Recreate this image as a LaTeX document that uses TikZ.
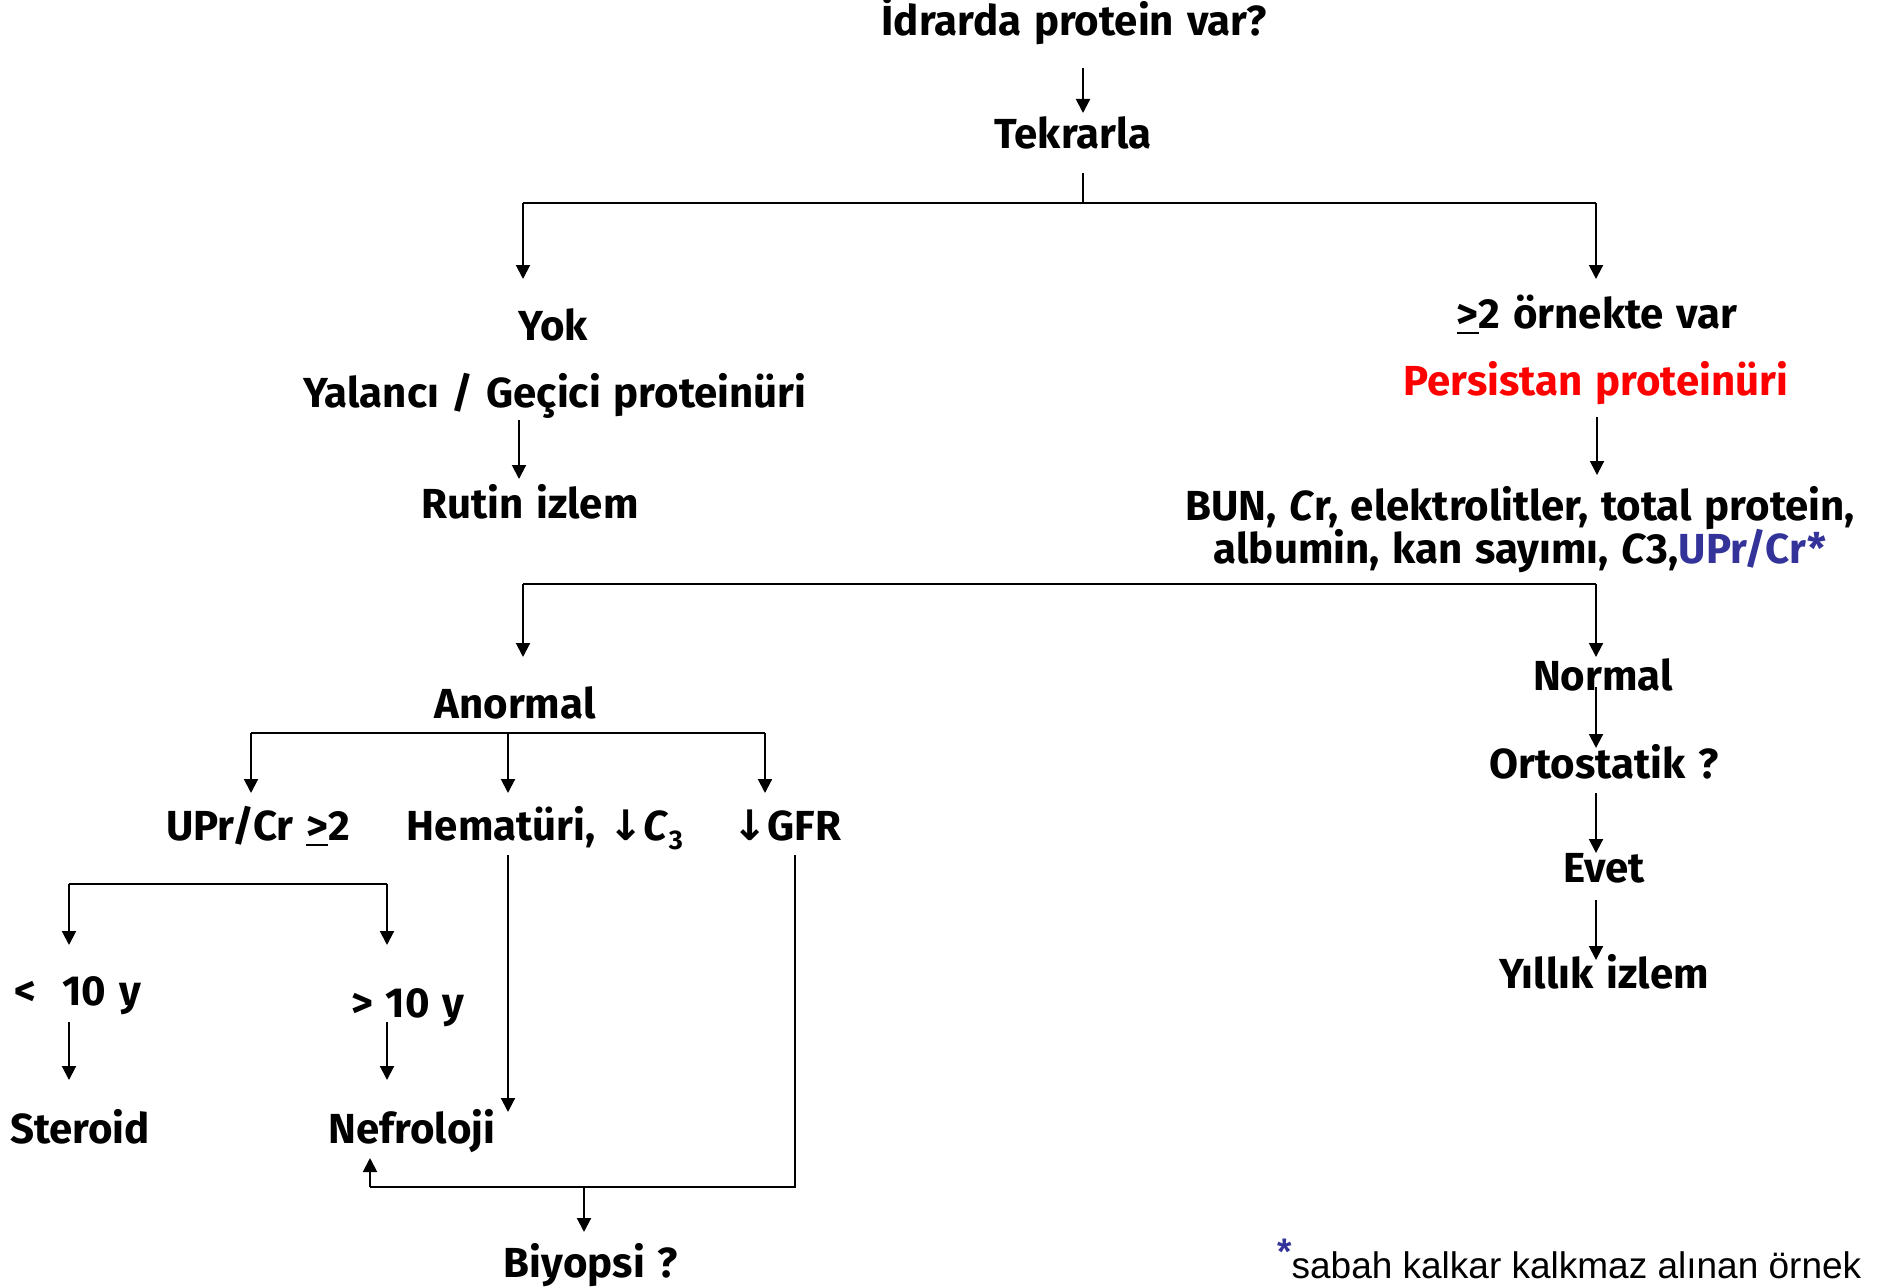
\documentclass[tikz,border=0pt]{standalone}
\usepackage{fontspec}
\setmainfont{Fira Sans}[WordSpace=1.3]
\newfontfamily\arrfont{DejaVu Sans}
\newfontfamily\footfont{Liberation Sans}
\usetikzlibrary{arrows.meta}
\definecolor{upblue}{RGB}{51,51,153}
\definecolor{pred}{RGB}{255,0,0}
\newsavebox\ulbox
\newcommand\ulge[1]{\begingroup\sbox\ulbox{#1}\rlap{\rule[-6pt]{\wd\ulbox}{2.5pt}}\usebox\ulbox\endgroup}
\newcommand\dnarr{{\arrfont\bfseries ↓}}
\begin{document}
\begin{tikzpicture}[x=1pt,y=-1pt,
  lbl/.style={inner sep=0pt, anchor=base, font=\fontsize{42}{48}\selectfont\bfseries},
  arr/.style={line width=2pt, -{Triangle[length=14pt,width=14pt]}},
  bar/.style={line width=2.6pt},
  ln/.style={line width=2pt}]
\useasboundingbox (0,0) rectangle (1886,1287);

% text nodes
\node[lbl] (q) at (1074,36) {İdrarda protein var?};
\node[lbl] (tek) at (1073,148) {Tekrarla};
\node[lbl] (yok) at (553,340) {Yok};
\node[lbl] (yal) at (555,407) {Yalancı / Geçici proteinüri};
\node[lbl] (rut) at (530,518) {Rutin izlem};
\node[lbl] (var) at (1597,328) {\ulge{>}2 örnekte var};
\node[lbl, text=pred] (pers) at (1596,395) {Persistan proteinüri};
\node[lbl] (bun1) at (1520,520) {BUN, \textit{C}r, elektrolitler, total protein,};
\node[lbl] (bun2) at (1520,563) {albumin, kan sayımı, \textit{C}3,\textcolor{upblue}{UPr/Cr*}};
\node[lbl] (norm) at (1603,690) {Normal};
\node[lbl] (orto) at (1604,778) {Ortostatik ?};
\node[lbl] (evet) at (1604,882) {Evet};
\node[lbl] (yil) at (1604,988) {Yıllık izlem};
\node[lbl] (anor) at (515,718) {Anormal};
\node[lbl] (upr) at (258,840) {UPr/Cr \ulge{>}2};
\node[lbl] (hem) at (545,840) {Hematüri, \dnarr\textit{C}\raisebox{-9pt}{\fontsize{27}{27}\selectfont 3}};
\node[lbl] (gfr) at (787,840) {\dnarr GFR};
\node[lbl] (lt) at (78,1005) {<\ \ 10 y};
\node[lbl] (gt) at (408,1017) {>\ 10 y};
\node[lbl] (ster) at (80,1143) {Steroid};
\node[lbl] (nef) at (412,1143) {Nefroloji};
\node[lbl] (biy) at (591,1277) {Biyopsi ?};
\node[inner sep=0pt, anchor=base west, font=\footfont\fontsize{37}{44}\selectfont] (foot) at (1277,1278)
  {\textcolor{upblue}{\raisebox{14pt}{\bfseries *}}sabah kalkar kalkmaz alınan örnek};

% coordinates
\coordinate (a1) at (1083,68);  \coordinate (a1e) at (1083,113);
\coordinate (t1) at (1083,173); \coordinate (t2) at (1083,203);
\coordinate (bl) at (523,203);  \coordinate (br) at (1596,203);
\coordinate (ylt) at (523,279); \coordinate (vrt) at (1596,279);
\coordinate (r1) at (519,420);  \coordinate (r1e) at (519,479);
\coordinate (p1) at (1597,417); \coordinate (p1e) at (1597,475);
\coordinate (b2l) at (523,584); \coordinate (b2r) at (1596,584);
\coordinate (anT) at (523,657); \coordinate (noT) at (1596,657);
\coordinate (n1) at (1596,687); \coordinate (n1e) at (1596,748);
\coordinate (o1) at (1596,793); \coordinate (o1e) at (1596,853);
\coordinate (e1) at (1596,900); \coordinate (e1e) at (1596,960);
\coordinate (c1) at (251,733);  \coordinate (c2) at (508,733); \coordinate (c3) at (765,733);
\coordinate (c1e) at (251,793); \coordinate (c2e) at (508,793); \coordinate (c3e) at (765,793);
\coordinate (u1) at (69,884);   \coordinate (u2) at (387,884);
\coordinate (u1e) at (69,945);  \coordinate (u2e) at (387,945);
\coordinate (l1) at (69,1022);  \coordinate (l1e) at (69,1080);
\coordinate (g1) at (387,1022); \coordinate (g1e) at (387,1080);
\coordinate (h1) at (508,855);  \coordinate (h1e) at (508,1112);
\coordinate (f1) at (795,855);  \coordinate (f2) at (795,1187);
\coordinate (f3) at (370,1187); \coordinate (f3e) at (370,1158);
\coordinate (bj) at (584,1187); \coordinate (bje) at (584,1232);

% connectors
\draw[arr] (a1) -- (a1e);
\draw[ln] (t1) -- (t2);
\draw[bar] (bl) -- (br);
\draw[arr] (bl) -- (ylt);
\draw[arr] (br) -- (vrt);
\draw[arr] (r1) -- (r1e);
\draw[arr] (p1) -- (p1e);
\draw[bar] (b2l) -- (b2r);
\draw[arr] (b2l) -- (anT);
\draw[arr] (b2r) -- (noT);
\draw[arr] (n1) -- (n1e);
\draw[arr] (o1) -- (o1e);
\draw[arr] (e1) -- (e1e);
\draw[bar] (c1) -- (c3);
\draw[arr] (c1) -- (c1e);
\draw[arr] (c2) -- (c2e);
\draw[arr] (c3) -- (c3e);
\draw[bar] (u1) -- (u2);
\draw[arr] (u1) -- (u1e);
\draw[arr] (u2) -- (u2e);
\draw[arr] (l1) -- (l1e);
\draw[arr] (g1) -- (g1e);
\draw[arr] (h1) -- (h1e);
\draw[ln] (f1) -- (f2) -- (f3);
\draw[arr] (f3) -- (f3e);
\draw[arr] (bj) -- (bje);
\end{tikzpicture}
\end{document}
